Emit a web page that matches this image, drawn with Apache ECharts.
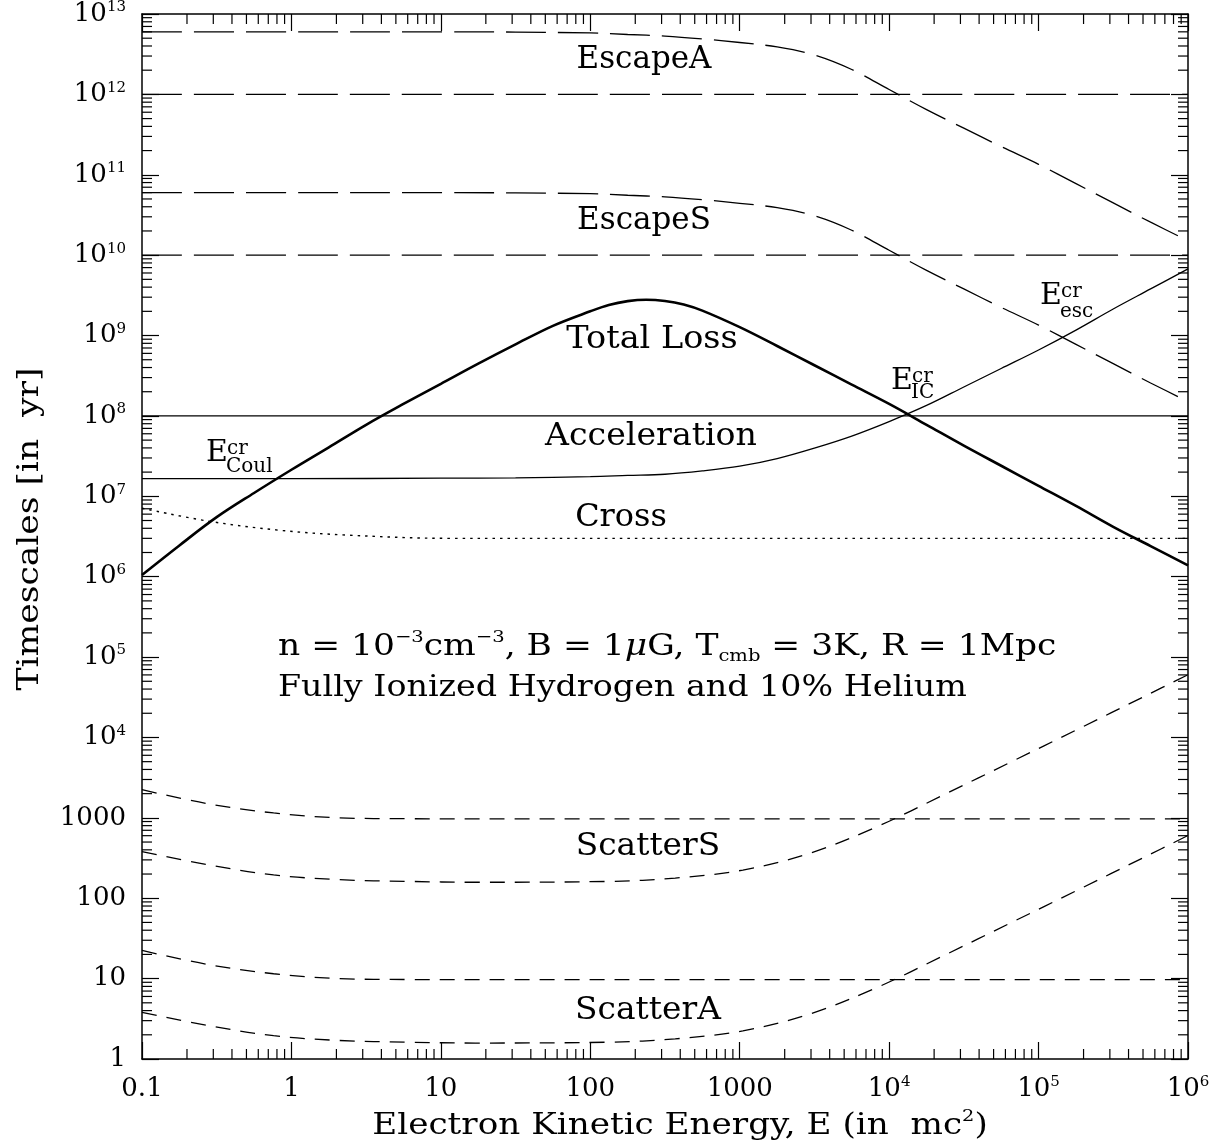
<!DOCTYPE html>
<html><head><meta charset="utf-8">
<script src="https://cdn.jsdelivr.net/npm/echarts@6/dist/echarts.min.js"></script>
<style>html,body{margin:0;padding:0;background:#fff}#c{width:1220px;height:1148px}</style>
</head><body><div id="c"></div>
<script>
const FONT = 'DejaVu Serif';

// ---- data: electron kinetic energy E (mc^2) and timescales (yr) ----
const totalLossE = [0.1, 0.178, 0.316, 0.562, 1, 1.78, 3.16, 5.62, 10, 17.8, 31.6, 56.2, 100, 133, 178, 237, 316, 422, 562, 1000, 1780, 3160, 5620, 10000, 17800, 31600, 56200, 1e5, 1.78e5, 3.16e5, 5.62e5, 1e6];
const totalLossT = [1.05e6, 2.45e6, 5.5e6, 1.1e7, 2.14e7, 4.07e7, 7.76e7, 1.41e8, 2.51e8, 4.47e8, 7.76e8, 1.32e9, 2.0e9, 2.4e9, 2.68e9, 2.79e9, 2.69e9, 2.43e9, 2.04e9, 1.27e9, 7.41e8, 4.27e8, 2.45e8, 1.41e8, 7.76e7, 4.27e7, 2.4e7, 1.35e7, 7.59e6, 4.17e6, 2.4e6, 1.38e6];

const accCurveE = [0.1, 1, 10, 31.6, 100, 178, 316, 562, 1000, 1780, 3160, 5620, 1e4, 1.78e4, 3.16e4, 5.62e4, 1e5, 1.78e5, 3.16e5, 5.62e5, 1e6];
const accCurveT = [1.66e7, 1.66e7, 1.68e7, 1.70e7, 1.76e7, 1.82e7, 1.88e7, 2.07e7, 2.37e7, 2.95e7, 3.98e7, 5.62e7, 8.51e7, 1.35e8, 2.29e8, 3.89e8, 6.61e8, 1.17e9, 2.14e9, 3.8e9, 6.76e9];

const accLineE = [0.1, 1e6];
const accLineT = [1e8, 1e8];

const escapeE = [0.1, 1, 10, 100, 178, 316, 562, 1000, 1780, 3160, 5620, 1e4, 1.78e4, 3.16e4, 5.62e4, 1e5, 1.78e5, 3.16e5, 5.62e5, 1e6];
const escapeAT = [6.0e12, 6.0e12, 6.0e12, 5.82e12, 5.56e12, 5.31e12, 4.9e12, 4.42e12, 3.89e12, 3.09e12, 2.04e12, 1.15e12, 6.46e11, 3.8e11, 2.24e11, 1.35e11, 7.76e10, 4.47e10, 2.57e10, 1.51e10];
const escapeST = [6.0e10, 6.0e10, 6.0e10, 5.82e10, 5.56e10, 5.31e10, 4.9e10, 4.42e10, 3.89e10, 3.09e10, 2.04e10, 1.15e10, 6.46e9, 3.8e9, 2.24e9, 1.35e9, 7.76e8, 4.47e8, 2.57e8, 1.51e8];
const escapeLineE = [0.1, 1e6];
const escapeALineT = [1e12, 1e12];
const escapeSLineT = [1e10, 1e10];

const crossE = [0.1, 0.28, 0.81, 2.3, 11.5, 100, 1e6];
const crossT = [7.1e6, 4.9e6, 3.8e6, 3.3e6, 3.0e6, 3.0e6, 3.0e6];

const scatUpE = [0.1, 0.27, 0.76, 2.1, 6, 30, 1e6];
const scatSUpT = [2240, 1510, 1150, 1000, 975, 970, 970];
const scatAUpT = [22.4, 15.1, 11.5, 10.0, 9.75, 9.7, 9.7];

const scatLoE = [0.1, 0.27, 0.76, 2.1, 6, 17, 135, 370, 1050, 2950, 8300, 23400, 66000, 182000, 510000, 1e6];
const scatSLoT = [380, 263, 195, 170, 162, 158, 162, 178, 224, 363, 776, 1950, 5000, 12600, 32400, 60300];
const scatALoT = [3.8, 2.63, 1.95, 1.70, 1.62, 1.58, 1.62, 1.78, 2.24, 3.63, 7.76, 19.5, 50, 126, 324, 603];

const xMin = 0.1, xMax = 1e6, yMin = 1, yMax = 1e13;

// minor tick positions (2..9 x 10^k)
const minorX = [];
for (let k = -1; k < 6; k++) for (let m = 2; m <= 9; m++) minorX.push(m * Math.pow(10, k));
const minorY = [];
for (let k = 0; k < 13; k++) for (let m = 2; m <= 9; m++) minorY.push(m * Math.pow(10, k));

function pairs(xs, ys) { return xs.map((x, i) => [x, ys[i]]); }
function lineSeries(xs, ys, width, type) {
  return {
    type: 'line', data: pairs(xs, ys), symbol: 'none', showSymbol: false,
    smooth: 0.35, silent: true, animation: false,
    lineStyle: { color: '#000', width: width, type: type }
  };
}
function tickLabel(v) {
  const k = Math.round(Math.log10(v));
  if (k === -1) return '{b|0.1}';
  if (k >= 0 && k <= 3) return '{b|' + String(Math.pow(10, k)) + '}';
  return '{b|10}{s|' + k + '}';
}
const labelRich = {
  b: { fontFamily: FONT, fontSize: 26, lineHeight: 28, color: '#000' },
  s: { fontFamily: FONT, fontSize: 15, lineHeight: 15, color: '#000', verticalAlign: 'top' }
};
function axisBase(pos, showLabel) {
  return {
    type: 'log', logBase: 10, position: pos, gridIndex: 0,
    axisLine: { show: true, onZero: false, lineStyle: { color: '#000', width: 1.5 } },
    axisTick: { show: true, inside: true, length: 17, interval: 0, lineStyle: { color: '#000', width: 1.2 } },
    splitLine: { show: false },
    minorTick: { show: false },
    axisLabel: { show: showLabel, interval: 0, formatter: tickLabel, rich: labelRich, margin: 16, showMinLabel: true, showMaxLabel: true, hideOverlap: false }
  };
}
const xa0 = Object.assign(axisBase('bottom', true), { min: xMin, max: xMax, splitNumber: 7 });
const xa1 = Object.assign(axisBase('top', false), { min: xMin, max: xMax, splitNumber: 7 });
const ya0 = Object.assign(axisBase('left', true), { min: yMin, max: yMax, splitNumber: 13, interval: 1 });
const ya1 = Object.assign(axisBase('right', false), { min: yMin, max: yMax, splitNumber: 13, interval: 1 });

function renderMinorX(params, api) {
  const v = api.value(0);
  const b = api.coord([v, yMin]);
  const t = api.coord([v, yMax]);
  const st = { stroke: '#000', lineWidth: 1.2 };
  return { type: 'group', children: [
    { type: 'line', shape: { x1: b[0], y1: b[1], x2: b[0], y2: b[1] - 10 }, style: st },
    { type: 'line', shape: { x1: t[0], y1: t[1], x2: t[0], y2: t[1] + 10 }, style: st }
  ] };
}
function renderMinorY(params, api) {
  const v = api.value(1);
  const l = api.coord([xMin, v]);
  const r = api.coord([xMax, v]);
  const st = { stroke: '#000', lineWidth: 1.2 };
  return { type: 'group', children: [
    { type: 'line', shape: { x1: l[0], y1: l[1], x2: l[0] + 10, y2: l[1] }, style: st },
    { type: 'line', shape: { x1: r[0], y1: r[1], x2: r[0] - 10, y2: r[1] }, style: st }
  ] };
}

const LONG = [40, 12], SHORT = [15, 10], DOT = [2.5, 5];

const series = [
  lineSeries(totalLossE, totalLossT, 2.6, 'solid'),
  lineSeries(accCurveE, accCurveT, 1.3, 'solid'),
  lineSeries(accLineE, accLineT, 1.3, 'solid'),
  lineSeries(escapeE, escapeAT, 1.3, LONG),
  lineSeries(escapeLineE, escapeALineT, 1.3, LONG),
  lineSeries(escapeE, escapeST, 1.3, LONG),
  lineSeries(escapeLineE, escapeSLineT, 1.3, LONG),
  lineSeries(crossE, crossT, 1.4, DOT),
  lineSeries(scatUpE, scatSUpT, 1.3, SHORT),
  lineSeries(scatLoE, scatSLoT, 1.3, SHORT),
  lineSeries(scatUpE, scatAUpT, 1.3, SHORT),
  lineSeries(scatLoE, scatALoT, 1.3, SHORT),
  { type: 'custom', renderItem: renderMinorX, data: minorX.map(v => [v, yMin]), silent: true, clip: false, animation: false },
  { type: 'custom', renderItem: renderMinorY, data: minorY.map(v => [xMin, v]), silent: true, clip: false, animation: false }
];

function txt(text, x, y, size, opts) {
  return Object.assign({
    type: 'text', x: x, y: y, silent: true,
    style: Object.assign({ text: text, fontFamily: FONT, fontSize: size, fill: '#000', align: 'center', verticalAlign: 'middle' }, (opts && opts.style) || {})
  }, (opts && opts.el) || {});
}
function eLabel(sub, x, yE, ySup, ySub) {
  return [
    txt('E', x, yE, 30, { style: { align: 'left' } }),
    txt('cr', x + 21, ySup, 20, { style: { align: 'left' } }),
    txt(sub, x + 20, ySub, 20, { style: { align: 'left' } })
  ];
}

const infoRich = {
  sup: { fontFamily: FONT, fontSize: 17, lineHeight: 17, verticalAlign: 'top', fill: '#000' },
  sub: { fontFamily: FONT, fontSize: 17, lineHeight: 17, verticalAlign: 'bottom', fill: '#000' },
  it: { fontFamily: FONT, fontSize: 30, lineHeight: 36, fontStyle: 'italic', fill: '#000' }
};

const graphics = [
  txt('EscapeA', 644, 60, 31),
  txt('EscapeS', 644, 221, 31),
  txt('Total Loss', 652, 340, 31, { el: { scaleX: 1.08 } }),
  txt('Acceleration', 651, 437, 31, { el: { scaleX: 1.07 } }),
  txt('Cross', 621, 518, 31, { el: { scaleX: 1.03 } }),
  txt('ScatterS', 648, 847, 31, { el: { scaleX: 1.06 } }),
  txt('ScatterA', 648, 1011, 31, { el: { scaleX: 1.06 } }),
  txt('n = 10{sup|−3}cm{sup|−3}, B = 1{it|μ}G, T{sub|cmb} = 3K, R = 1Mpc', 278, 647, 30,
      { style: { align: 'left', lineHeight: 36, rich: infoRich }, el: { scaleX: 1.15 } }),
  txt('Fully Ionized Hydrogen and 10% Helium', 278, 688, 30, { style: { align: 'left' }, el: { scaleX: 1.11 } }),
  txt('Electron Kinetic Energy, E (in  mc{sup|2})', 680, 1126, 30,
      { style: { lineHeight: 36, rich: infoRich }, el: { scaleX: 1.14 } }),
  txt('Timescales [in  yr]', 30, 529, 30, { el: { rotation: Math.PI / 2, scaleX: 1.15 } })
].concat(
  eLabel('Coul', 206, 453, 449, 467),
  eLabel('IC', 891, 381, 377, 393),
  eLabel('esc', 1040, 296, 292, 312)
);

const chart = echarts.init(document.getElementById('c'), null, { renderer: 'canvas' });
chart.setOption({
  animation: false,
  backgroundColor: '#fff',
  grid: { left: 142, top: 13, width: 1046, height: 1046, containLabel: false },
  xAxis: [xa0, xa1],
  yAxis: [ya0, ya1],
  series: series,
  graphic: graphics
});
</script>
</body></html>
